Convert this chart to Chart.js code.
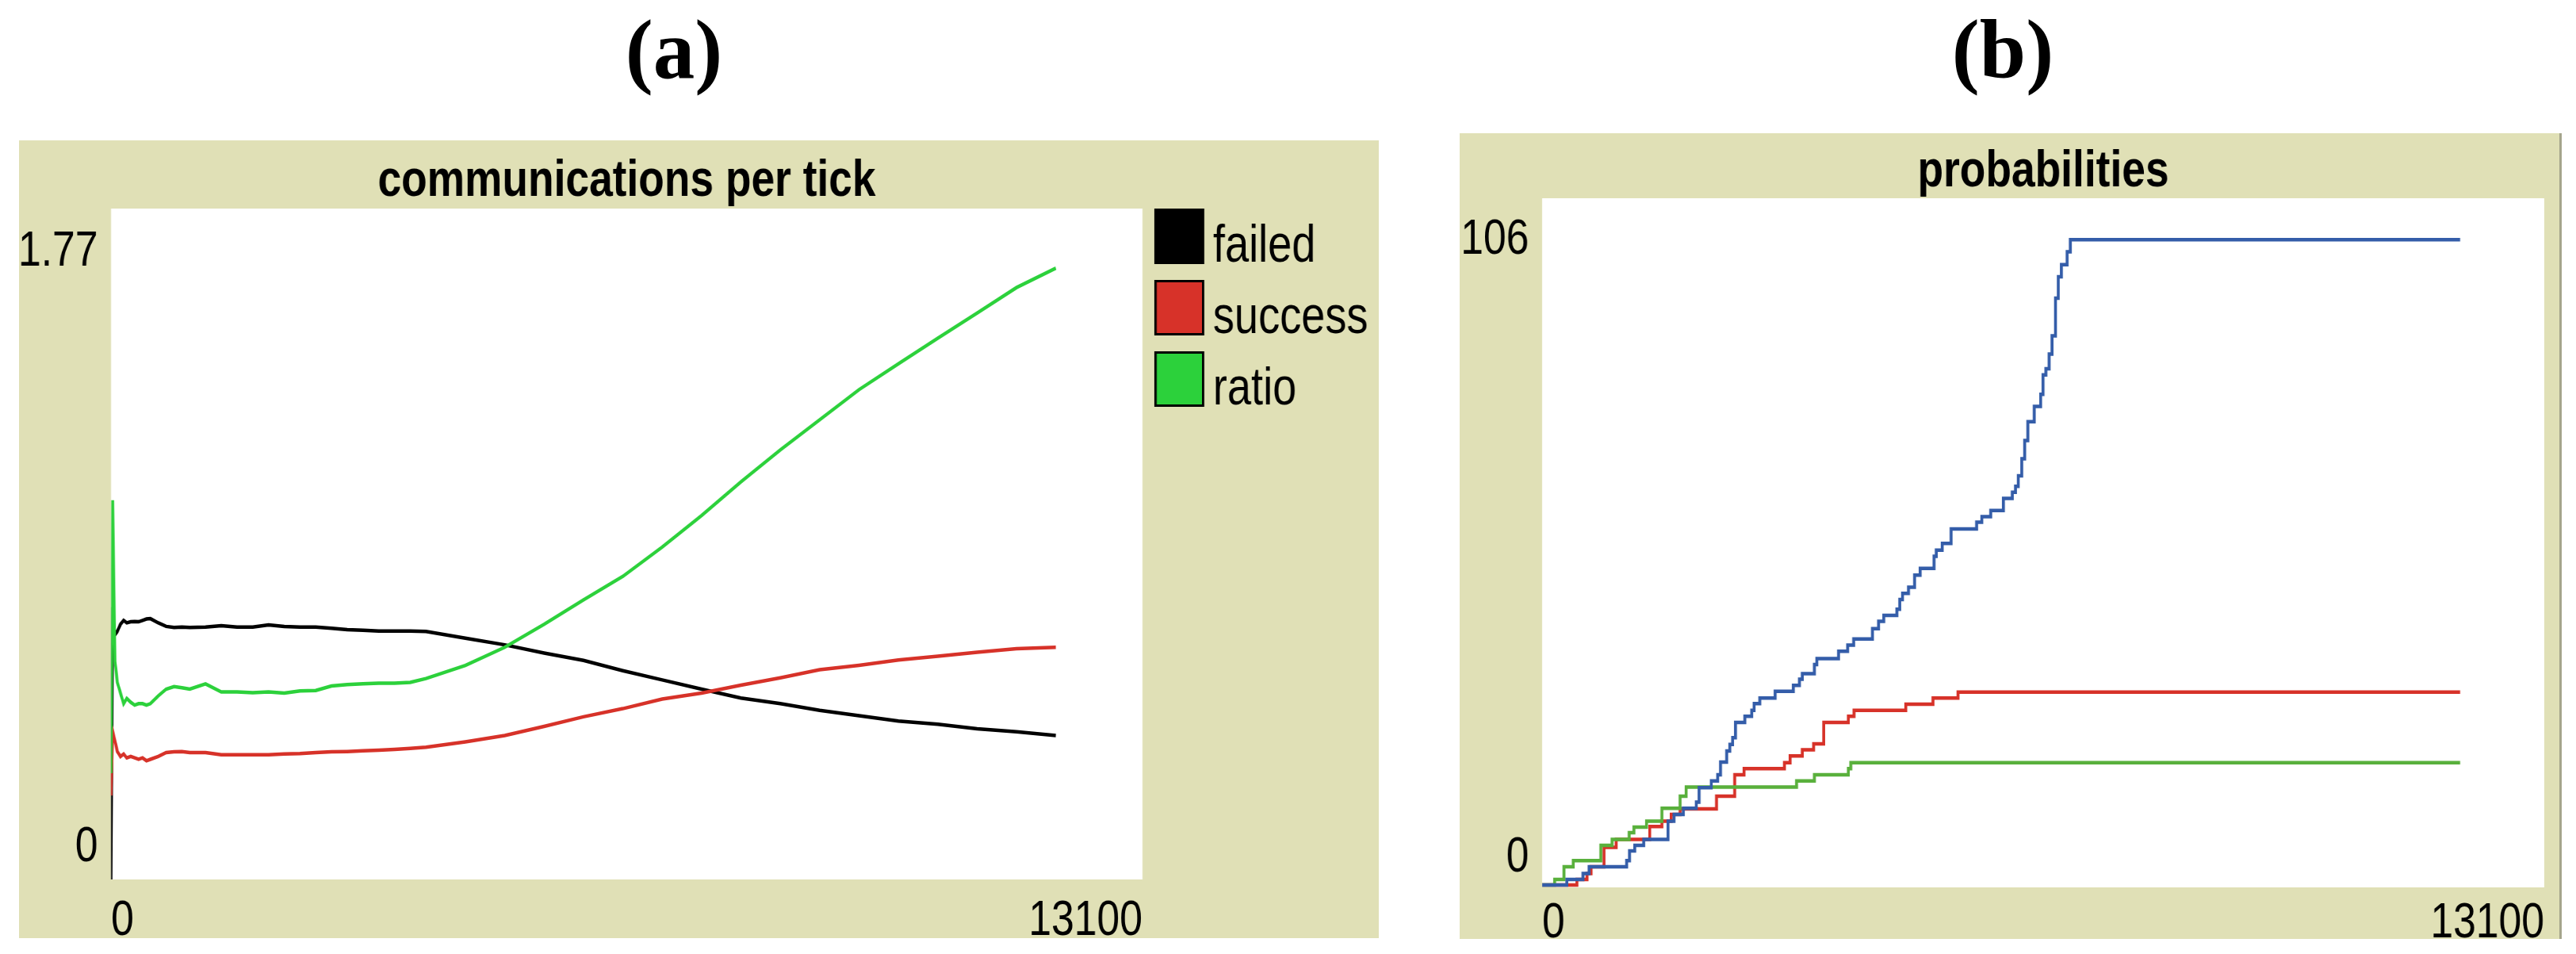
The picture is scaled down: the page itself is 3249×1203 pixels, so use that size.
<!DOCTYPE html>
<html><head><meta charset="utf-8">
<script src="https://cdn.jsdelivr.net/npm/chart.js@4.4.1/dist/chart.umd.min.js"></script>
<style>
html,body{margin:0;padding:0;background:#fff;width:3249px;height:1203px;overflow:hidden;}
.panel{position:absolute;background:rgb(224,224,182);}
#pa{left:24px;top:177px;width:1715px;height:1006px;}
#pb{left:1841px;top:168px;width:1387px;height:1016px;border-right:3px solid rgb(165,165,140);}
.lab{position:absolute;top:10px;width:400px;text-align:center;font-family:"Liberation Serif","Times New Roman",serif;font-weight:bold;font-size:105px;line-height:105px;color:#000;}
canvas{display:block;}
</style></head><body>
<div class="lab" style="left:650px">(a)</div>
<div class="lab" style="left:2326px">(b)</div>
<div class="panel" id="pa"><canvas id="ca"></canvas></div>
<div class="panel" id="pb"><canvas id="cb"></canvas></div>
<script>
// ---------- Panel (a): communications per tick ----------
const titleA = 'communications per tick';
const seriesA = ['failed', 'success', 'ratio'];
const ticksA = [0, 20, 50, 80, 120, 160, 200, 250, 300, 350, 400, 450, 500, 600, 700, 800, 900, 1000, 1200, 1400,
  1600, 1800, 2000, 2200, 2400, 2600, 2800, 3000, 3200, 3400, 3600, 3800, 4000, 4500, 5000, 5500, 6000, 6500, 7000, 7500,
  8000, 8500, 9000, 9500, 10000, 10500, 11000, 11500, 12000];
const failedA = [0, 0.768, 0.69, 0.70, 0.72, 0.731, 0.724, 0.727, 0.728, 0.727, 0.731, 0.735, 0.736, 0.724, 0.714, 0.711, 0.712, 0.711, 0.712, 0.716,
  0.712, 0.712, 0.718, 0.714, 0.712, 0.712, 0.709, 0.705, 0.703, 0.701, 0.701, 0.701, 0.700, 0.681, 0.662, 0.639, 0.618, 0.589, 0.563, 0.537,
  0.512, 0.496, 0.477, 0.462, 0.447, 0.438, 0.425, 0.417, 0.406];
const successA = [0.237, 0.419, 0.391, 0.361, 0.347, 0.354, 0.343, 0.347, 0.343, 0.339, 0.343, 0.335, 0.339, 0.347, 0.358, 0.36, 0.361, 0.358, 0.358, 0.352,
  0.352, 0.352, 0.352, 0.354, 0.355, 0.358, 0.36, 0.361, 0.363, 0.365, 0.367, 0.370, 0.373, 0.388, 0.406, 0.432, 0.459, 0.482, 0.509, 0.526,
  0.548, 0.569, 0.592, 0.604, 0.619, 0.630, 0.641, 0.651, 0.655];
const ratioA = [0.30, 1.07, 0.615, 0.556, 0.526, 0.496, 0.511, 0.500, 0.492, 0.496, 0.496, 0.492, 0.496, 0.518, 0.537, 0.544, 0.541, 0.537, 0.552, 0.529,
  0.529, 0.527, 0.529, 0.526, 0.532, 0.533, 0.546, 0.550, 0.552, 0.554, 0.554, 0.556, 0.567, 0.604, 0.655, 0.720, 0.789, 0.855, 0.938, 1.027,
  1.122, 1.212, 1.297, 1.382, 1.455, 1.527, 1.598, 1.670, 1.725];
const xTickLabelsA = [0, 13100];
const yTickLabelsA = [0, 1.77];

// ---------- Panel (b): probabilities ----------
const titleB = 'probabilities';
const blueT = [0, 322, 534, 613, 1105, 1142, 1211, 1327, 1645, 1724, 1845, 2015, 2052, 2211, 2295, 2332, 2412, 2453, 2490, 2528,
  2649, 2739, 2771, 2845, 3046, 3284, 3363, 3400, 3559, 3590, 3874, 3994, 4072, 4318, 4397, 4466, 4637, 4674, 4711, 4789,
  4868, 4942, 5123, 5151, 5230, 5345, 5679, 5748, 5863, 6030, 6145, 6187, 6224, 6270, 6308, 6349, 6432, 6516, 6548, 6585,
  6627, 6664, 6710, 6747, 6788, 6862, 6904, 12000];
const blueV = [0, 0.9, 1.9, 3.0, 4.0, 5.6, 6.5, 7.5, 10.5, 11.6, 12.6, 13.6, 16.0, 17.1, 18.1, 20.2, 22.0, 23.1, 24.2, 26.7,
  27.7, 28.7, 29.8, 30.7, 31.8, 32.8, 33.8, 34.7, 36.2, 37.2, 38.4, 39.4, 40.4, 42.1, 43.3, 44.3, 45.3, 46.9, 47.9, 48.9,
  50.9, 52.0, 54.0, 55.0, 56.1, 58.5, 59.6, 60.5, 61.5, 63.5, 64.5, 65.5, 67.2, 70.0, 73.0, 76.1, 78.6, 80.6, 83.8, 84.8,
  87.2, 90.2, 96.4, 99.9, 101.9, 104.0, 106, 106];
const redT = [0, 455, 587, 640, 808, 968, 1406, 1565, 1687, 1803, 2279, 2517, 2639, 3167, 3242, 3400, 3548, 3680, 4003, 4077,
  4754, 5108, 5436, 12000];
const redV = [0, 0.9, 1.9, 3.0, 6.2, 7.5, 9.6, 10.5, 11.6, 12.5, 14.6, 18.1, 19.1, 20.1, 21.2, 22.2, 23.2, 26.7, 27.7, 28.7,
  29.7, 30.7, 31.7, 31.7];
const greenT = [0, 164, 285, 407, 767, 915, 1137, 1200, 1364, 1565, 1803, 1882, 3326, 3559, 4003, 4035, 12000];
const greenV = [0, 0.9, 3.0, 4.0, 6.5, 7.5, 8.6, 9.5, 10.5, 12.6, 14.6, 16.1, 17.1, 18.1, 19.1, 20.1, 20.1];
const xTickLabelsB = [0, 13100];
const yTickLabelsB = [0, 106];

// ---------- fonts: NetLogo-like narrow text, obtained by a horizontal squeeze of the canvas ----------
const FAM = '"Liberation Sans", Arial, sans-serif';
const S = 0.82;                 // horizontal squeeze factor of each canvas
function setupCanvas(id, cssW, cssH) {
  const c = document.getElementById(id);
  c.width = Math.round(cssW / S);
  c.height = cssH;
  c.style.width = cssW + 'px';
  c.style.height = cssH + 'px';
  return c;
}

// ---------- plugins ----------
const plotBg = {
  id: 'plotBg',
  beforeDraw(chart) {
    const {ctx, chartArea: a} = chart;
    ctx.save();
    ctx.fillStyle = '#ffffff';
    ctx.fillRect(a.left, a.top, a.right - a.left, a.bottom - a.top);
    ctx.restore();
  }
};
const lowLabelShift = {
  id: 'lowLabelShift',
  beforeDraw(chart, args, opts) {
    const s = chart.scales.y;
    const items = s.getLabelItems();
    if (items.length && !items.__shifted) {
      items[0].options.translation[1] += opts.dy;
      items.__shifted = true;
    }
  }
};
const sideLegend = {
  id: 'sideLegend',
  afterDraw(chart, args, o) {
    if (!o || !o.show) return;
    const {ctx, chartArea: a} = chart;
    ctx.save();
    chart.data.datasets.forEach((ds, i) => {
      const x = a.right + o.gap, y = a.top + i * o.step;
      ctx.fillStyle = '#000';
      ctx.fillRect(x, y, o.w, o.h);
      ctx.fillStyle = ds.borderColor;
      ctx.fillRect(x + o.bwx, y + o.bwy, o.w - 2 * o.bwx, o.h - 2 * o.bwy);
      ctx.fillStyle = '#000';
      ctx.font = o.size + 'px ' + FAM;
      ctx.textBaseline = 'alphabetic';
      ctx.textAlign = 'left';
      ctx.fillText(ds.label, x + o.w + o.tx, y + o.h - 3);
    });
    ctx.restore();
  }
};

function pts(xs, ys) { return xs.map((x, i) => ({x: x, y: ys[i]})); }

function axes(xLabels, yLabels, yMin, yMax, yWidth, xHeight, xPad) {
  const tickFont = {family: FAM, size: 63};
  return {
    x: {
      type: 'linear', min: 0, max: 13100,
      grid: {display: false}, border: {display: false},
      afterBuildTicks: s => { s.ticks = xLabels.map(v => ({value: v})); },
      afterFit: s => { s.height = xHeight; },
      ticks: {align: 'inner', maxRotation: 0, minRotation: 0, autoSkip: false, padding: xPad, color: '#000', font: tickFont,
        callback: v => String(v)}
    },
    y: {
      type: 'linear', min: yMin, max: yMax,
      grid: {display: false}, border: {display: false},
      afterBuildTicks: s => { s.ticks = yLabels.map(v => ({value: v})); },
      afterFit: s => { s.width = yWidth / S; },
      ticks: {padding: 10 / S, color: '#000', font: tickFont, autoSkip: false, callback: v => String(v)}
    }
  };
}

new Chart(setupCanvas('ca', 1715, 1006), {
  type: 'line',
  data: {
    datasets: [
      {label: seriesA[0], data: pts(ticksA, failedA), borderColor: '#000000', order: 2},
      {label: seriesA[1], data: pts(ticksA, successA), borderColor: 'rgb(215,50,41)', order: 1},
      {label: seriesA[2], data: pts(ticksA, ratioA), borderColor: 'rgb(44,209,59)', order: 0}
    ]
  },
  options: {
    responsive: false, animation: false, events: [], devicePixelRatio: 1,
    elements: {point: {radius: 0}, line: {borderWidth: 4.5, tension: 0}},
    layout: {padding: {left: 0, top: 0, right: 298 / S, bottom: 0}},
    plugins: {
      legend: {display: false}, tooltip: {enabled: false},
      title: {display: true, text: titleA, fullSize: false, color: '#000',
        font: {family: FAM, size: 65, weight: 'bold', lineHeight: 1}, padding: {top: 20, bottom: 1}},
      lowLabelShift: {dy: -40},
      sideLegend: {show: true, gap: 15 / S, step: 90, w: 63 / S, h: 70, bwx: 3 / S, bwy: 3, tx: 11 / S, size: 66}
    },
    scales: axes(xTickLabelsA, yTickLabelsA, 0, 1.893, 116, 74, 7)
  },
  plugins: [plotBg, lowLabelShift, sideLegend]
});

new Chart(setupCanvas('cb', 1387, 1016), {
  type: 'line',
  data: {
    datasets: [
      {label: 'blue', data: pts(blueT, blueV), borderColor: 'rgb(52,93,169)', order: 0},
      {label: 'red', data: pts(redT, redV), borderColor: 'rgb(215,50,41)', order: 2},
      {label: 'green', data: pts(greenT, greenV), borderColor: 'rgb(89,176,60)', order: 1}
    ]
  },
  options: {
    responsive: false, animation: false, events: [], devicePixelRatio: 1,
    elements: {point: {radius: 0}, line: {borderWidth: 4.5, tension: 0, stepped: true}},
    layout: {padding: {left: 0, top: 0, right: 19 / S, bottom: 0}},
    plugins: {
      legend: {display: false}, tooltip: {enabled: false},
      title: {display: true, text: titleB, fullSize: false, color: '#000',
        font: {family: FAM, size: 65, weight: 'bold', lineHeight: 1}, padding: {top: 17, bottom: 0}},
      lowLabelShift: {dy: -34},
      sideLegend: {show: false}
    },
    scales: axes(xTickLabelsB, yTickLabelsB, -0.39, 112.8, 104, 65, 0)
  },
  plugins: [plotBg, lowLabelShift, sideLegend]
});
</script>
</body></html>
